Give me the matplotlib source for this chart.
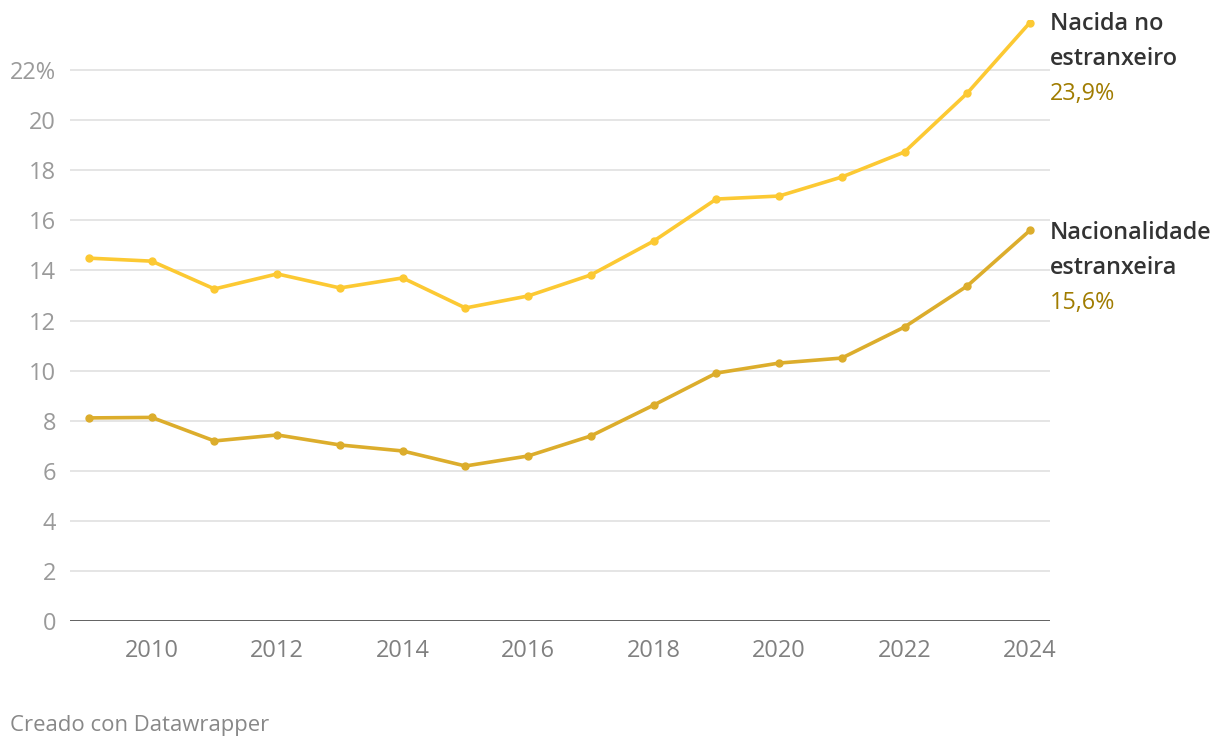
import matplotlib
matplotlib.use("Agg")
import matplotlib.pyplot as plt

years = list(range(2009, 2025))
nacida = [14.49, 14.37, 13.26, 13.86, 13.30, 13.70, 12.50, 12.98, 13.82, 15.17,
          16.85, 16.97, 17.73, 18.73, 21.08, 23.9]
nacionalidade = [8.11, 8.13, 7.19, 7.43, 7.03, 6.79, 6.19, 6.59, 7.39, 8.62,
                 9.90, 10.30, 10.50, 11.74, 13.38, 15.6]
yticks = [0, 2, 4, 6, 8, 10, 12, 14, 16, 18, 20, 22]
ytick_labels = ["0", "2", "4", "6", "8", "10", "12", "14", "16", "18", "20", "22%"]
xticks = [2010, 2012, 2014, 2016, 2018, 2020, 2022, 2024]

plt.rcParams['font.family'] = ['Open Sans', 'DejaVu Sans']

W, H = 1220, 748
fig = plt.figure(figsize=(W / 100, H / 100), dpi=100)
ax_left, ax_right = 70, 1050
ax_top, ax_bottom = 20, 621
ax = fig.add_axes([ax_left / W, 1 - ax_bottom / H, (ax_right - ax_left) / W, (ax_bottom - ax_top) / H])
ax.set_xlim(2008.697, 2024.319)
ax.set_ylim(0, 24)

for t in yticks[1:]:
    ax.axhline(t, color="#e3e3e3", lw=1.3, zorder=1)
ax.axhline(0, color="#333333", lw=1.8, zorder=3)

c1 = "#fcc933"
c2 = "#dcad2c"
ax.plot(years, nacida, color=c1, lw=2.6, marker="o", ms=5, zorder=4, solid_capstyle="round")
ax.plot(years, nacionalidade, color=c2, lw=2.6, marker="o", ms=5, zorder=4, solid_capstyle="round")

for s in ax.spines.values():
    s.set_visible(False)
ax.set_yticks(yticks)
ax.set_yticklabels(ytick_labels)
ax.set_xticks(xticks)
ax.set_xticklabels([str(x) for x in xticks])
ax.tick_params(axis="y", length=0, pad=10, labelsize=17, labelcolor="#9a9a9a")
ax.tick_params(axis="x", length=0, pad=13, labelsize=17, labelcolor="#808080")
ax.grid(False)

def px_to_fig(x, y):
    return x / W, 1 - y / H

lab_col = "#333333"
val_col = "#a07c00"
fs = 16.8
for (y0, lines, val) in [(24, ["Nacida no", "estranxeiro"], "23,9%"),
                         (233, ["Nacionalidade", "estranxeira"], "15,6%")]:
    for i, t in enumerate(lines):
        fig.text(*px_to_fig(1050, y0 + 35 * i), t, ha="left", va="center",
                 fontsize=fs, color=lab_col, fontweight="semibold")
    fig.text(*px_to_fig(1050, y0 + 70), val, ha="left", va="center",
             fontsize=fs, color=val_col)

fig.text(*px_to_fig(10, 726), "Creado con Datawrapper", ha="left", va="center",
         fontsize=15.9, color="#888888")

fig.savefig("out.png", dpi=100, facecolor="white")
